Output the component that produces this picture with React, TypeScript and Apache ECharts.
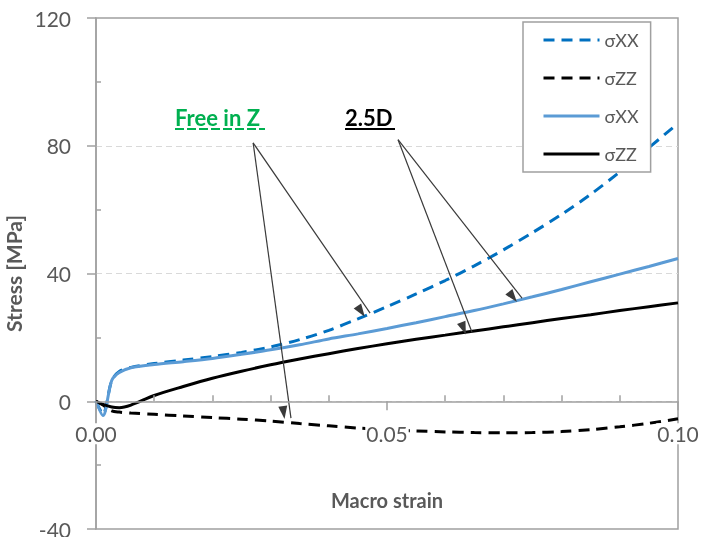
import { useEffect, useRef } from "react";
import * as echarts from "echarts";

// Macro strain sample points shared by all four curves
const strain = [
  0, 0.0012, 0.0027, 0.004, 0.006, 0.01, 0.015, 0.02, 0.025, 0.03, 0.035, 0.04,
  0.045, 0.05, 0.055, 0.06, 0.065, 0.07, 0.075, 0.08, 0.085, 0.09, 0.095, 0.1,
];

// "Free in Z" model (dashed)
const freeXX = [
  0, -4, 6.5, 9.3, 10.6, 11.8, 12.9, 14.0, 15.3, 17.0, 19.3, 22.2, 25.8, 29.6,
  33.6, 37.8, 42.4, 47.4, 52.8, 58.5, 64.8, 71.8, 79.4, 87.0,
];
const freeZZ = [
  0, -1.2, -3.0, -3.4, -3.7, -4.1, -4.6, -5.1, -5.6, -6.2, -7.0, -7.7, -8.4,
  -8.9, -9.3, -9.6, -9.8, -9.9, -9.8, -9.5, -8.9, -8.0, -6.9, -5.5,
];

// "2.5D" model (solid)
const d25XX = [
  0, -4.5, 6.5, 9.0, 10.5, 11.5, 12.4, 13.4, 14.7, 16.1, 17.7, 19.5, 21.1, 22.8,
  24.6, 26.5, 28.4, 30.5, 32.7, 35.0, 37.4, 39.8, 42.2, 44.7,
];
const d25ZZ = [
  0, -1.0, -1.8, -2.0, -1.2, 1.8, 4.6, 7.2, 9.4, 11.4, 13.2, 14.9, 16.5, 18.0,
  19.4, 20.7, 22.0, 23.3, 24.6, 25.9, 27.1, 28.4, 29.6, 30.8,
];

const legendLabels: Record<string, string> = {
  freeXX: "σXX",
  freeZZ: "σZZ",
  d25XX: "σXX",
  d25ZZ: "σZZ",
};

// Callout arrows [from, to] in (strain, stress)
const freeArrows = [
  [[0.027, 80.9], [0.0471, 27.6]],
  [[0.027, 80.9], [0.0335, -5.3]],
];
const d25Arrows = [
  [[0.0519, 81.9], [0.0646, 21.6]],
  [[0.0519, 81.9], [0.0732, 32.3]],
];

const yMin = -40;
const yMax = 120;
const yStep = 40;
const xMin = 0;
const xMax = 0.1;
const xStep = 0.05;

const FONT = "Lato";
const GRAY = "#595959";
const AXIS = "#A0A0A0";

const W = 701;
const H = 537;
const GRID = { left: 96, right: 23, top: 18, bottom: 8 };

const pairs = (ys: number[]) => strain.map((x, i) => [x, ys[i]]);

export default function App() {
  const ref = useRef<HTMLDivElement>(null);

  useEffect(() => {
    if (!ref.current) return;
    const chart = echarts.init(ref.current, null, { renderer: "svg" });

    // lift the strain axis from the bottom edge of the plot up to stress = 0
    const plotH = H - GRID.top - GRID.bottom;
    const xAxisOffset = -plotH * ((0 - yMin) / (yMax - yMin));

    const curve = (name: string, ys: number[], color: string, dashed: boolean) => ({
      name,
      type: "line",
      xAxisIndex: 0,
      yAxisIndex: 0,
      data: pairs(ys),
      symbol: "none",
      showSymbol: false,
      smooth: 0.3,
      lineStyle: { color, width: 3, type: dashed ? [11, 7] : "solid", cap: "butt" },
      itemStyle: { color },
      emphasis: { disabled: true },
      z: 2,
    });

    const arrowSeries = (arrows: number[][][]) => ({
      type: "line",
      data: [],
      xAxisIndex: 0,
      yAxisIndex: 0,
      silent: true,
      markLine: {
        silent: true,
        animation: false,
        symbol: ["none", "triangle"],
        symbolSize: [9, 13],
        symbolOffset: [0, 6.5],
        label: { show: false },
        emphasis: { disabled: true },
        lineStyle: { color: "#3A3A3A", width: 1.2, type: "solid" },
        data: arrows.map((a) => [{ coord: a[0] }, { coord: a[1] }]),
      },
      z: 3,
    });

    chart.setOption({
      animation: false,
      textStyle: { fontFamily: FONT },
      grid: {
        show: true,
        ...GRID,
        containLabel: false,
        outerBoundsMode: "none",
        borderColor: AXIS,
        borderWidth: 1.5,
        backgroundColor: "transparent",
      },
      legend: {
        orient: "vertical",
        left: 523,
        top: 22,
        padding: [9, 12, 9, 19],
        itemGap: 20,
        itemWidth: 56,
        itemHeight: 14,
        borderColor: AXIS,
        borderWidth: 1.5,
        backgroundColor: "#fff",
        selectedMode: false,
        data: ["freeXX", "freeZZ", "d25XX", "d25ZZ"],
        formatter: (n: string) => legendLabels[n],
        itemStyle: { color: "transparent", borderColor: "transparent", borderWidth: 0, opacity: 0 },
        lineStyle: { width: 3 },
        textStyle: { fontSize: 18, color: GRAY, fontFamily: FONT },
      },
      xAxis: [
        {
          type: "value",
          min: xMin,
          max: xMax,
          interval: xStep,
          position: "bottom",
          offset: xAxisOffset,
          z: 5,
          axisLine: { show: true, onZero: false, lineStyle: { color: AXIS, width: 1.5 } },
          axisTick: { show: true, inside: false, length: 9, lineStyle: { color: AXIS, width: 1.5 } },
          minorTick: { show: false },
          splitLine: { show: false },
          axisLabel: {
            formatter: (v: number) => v.toFixed(2),
            fontSize: 21,
            color: GRAY,
            margin: 22,
            backgroundColor: "#fff",
            padding: [0, 1],
            fontFamily: FONT,
          },
          name: "Macro strain",
          nameLocation: "middle",
          nameGap: 89,
          nameTextStyle: { fontSize: 20, fontWeight: "bold", color: GRAY, fontFamily: FONT },
        },
        {
          type: "value",
          min: xMin,
          max: xMax,
          interval: xStep,
          position: "bottom",
          offset: xAxisOffset,
          z: 5,
          axisLine: { show: false, onZero: false },
          axisTick: { show: false, inside: true },
          minorTick: { show: true, splitNumber: 5, length: 6, lineStyle: { color: AXIS, width: 1.5 } },
          splitLine: { show: false },
          axisLabel: { show: false },
        },
      ],
      yAxis: [
        {
          type: "value",
          min: yMin,
          max: yMax,
          interval: yStep,
          position: "left",
          axisLine: { show: true, onZero: false, lineStyle: { color: AXIS, width: 1.5 } },
          axisTick: { show: true, inside: false, length: 9, lineStyle: { color: AXIS, width: 1.5 } },
          axisLabel: { fontSize: 21, color: GRAY, margin: 25, fontFamily: FONT },
          splitLine: {
            show: true,
            showMinLine: false,
            showMaxLine: false,
            lineStyle: { color: "#D9D9D9", width: 1, type: [6, 4] },
          },
          name: "Stress [MPa]",
          nameLocation: "middle",
          nameGap: 62,
          nameRotate: 90,
          nameTextStyle: { fontSize: 21, fontWeight: "bold", color: GRAY, fontFamily: FONT },
        },
        {
          type: "value",
          min: yMin,
          max: yMax,
          interval: yStep,
          position: "left",
          axisLine: { show: false, onZero: false },
          axisTick: { show: false, inside: true },
          minorTick: { show: true, splitNumber: 2, length: 5, lineStyle: { color: AXIS, width: 1.5 } },
          axisLabel: { show: false },
          splitLine: { show: false },
        },
      ],
      graphic: [
        {
          type: "text",
          x: 175,
          y: 117,
          style: {
            text: "Free in Z",
            fill: "#00B050",
            font: `bold 22px ${FONT}`,
            verticalAlign: "middle",
            align: "left",
          },
        },
        {
          type: "line",
          shape: { x1: 175, y1: 129, x2: 265, y2: 129 },
          style: { stroke: "#00B050", lineWidth: 2, lineDash: [9, 3] },
        },
        {
          type: "text",
          x: 345,
          y: 117,
          style: {
            text: "2.5D",
            fill: "#000",
            font: `bold 22px ${FONT}`,
            verticalAlign: "middle",
            align: "left",
          },
        },
        {
          type: "line",
          shape: { x1: 345, y1: 129, x2: 395, y2: 129 },
          style: { stroke: "#000", lineWidth: 2 },
        },
      ],
      series: [
        curve("freeXX", freeXX, "#0070C0", true),
        curve("freeZZ", freeZZ, "#000000", true),
        curve("d25XX", d25XX, "#5B9BD5", false),
        curve("d25ZZ", d25ZZ, "#000000", false),
        arrowSeries(freeArrows),
        arrowSeries(d25Arrows),
      ],
    });

    return () => chart.dispose();
  }, []);

  return (
    <div
      ref={ref}
      style={{ position: "fixed", left: 0, top: 0, width: W, height: H }}
    />
  );
}
